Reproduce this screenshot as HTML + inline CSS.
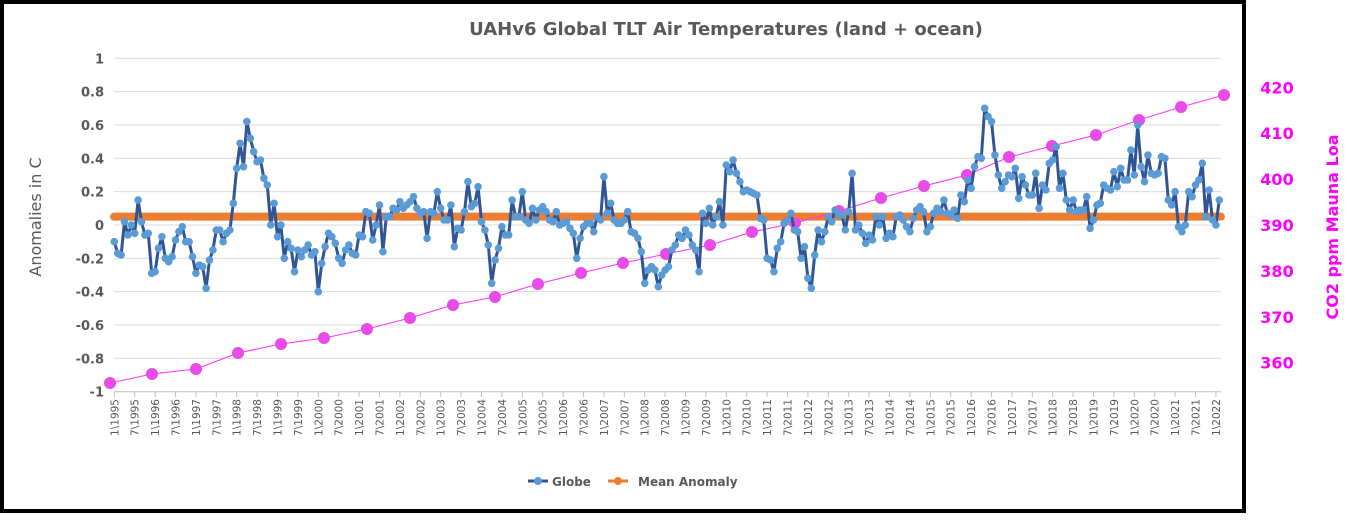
<!DOCTYPE html>
<html><head><meta charset="utf-8"><style>
html,body{margin:0;padding:0;background:#fff;}
body{width:1356px;height:524px;overflow:hidden;font-family:"DejaVu Sans",sans-serif;}
</style></head><body>
<svg id="s" width="1356" height="524" xmlns="http://www.w3.org/2000/svg" font-family="DejaVu Sans, sans-serif">
<rect x="2" y="2" width="1242" height="509" fill="#fff" stroke="#000" stroke-width="4"/>
<text x="726" y="35" text-anchor="middle" font-size="18" font-weight="bold" fill="#595959">UAHv6 Global TLT Air Temperatures (land + ocean)</text>
<text transform="translate(41,217) rotate(-90)" text-anchor="middle" font-size="16" fill="#595959">Anomalies in C</text>
<text transform="translate(1338,227) rotate(-90)" text-anchor="middle" font-size="16" font-weight="bold" fill="#ff00ff">CO2 ppm Mauna Loa</text>
<g id="g"></g>
<g font-size="12" font-weight="bold" fill="#595959">
<line x1="528" y1="481" x2="548" y2="481" stroke="#2f5597" stroke-width="3"/><circle cx="538" cy="481" r="4" fill="#5b9bd5"/>
<text x="552" y="486">Globe</text>
<line x1="608" y1="481" x2="628" y2="481" stroke="#ed7d31" stroke-width="3"/><circle cx="618" cy="481" r="4" fill="#ed7d31"/>
<text x="638" y="486">Mean Anomaly</text>
</g>
</svg>
<script>
var g=document.getElementById('g'),h='';
var y0=225,sc=166.7;function Y(v){return y0-v*sc;}
for(var k=0;k<=10;k++){var v=1-k*0.2,y=58.3+k*33.33;
 if(k<10)h+='<line x1="114" x2="1221" y1="'+y+'" y2="'+y+'" stroke="#d9d9d9" stroke-width="1"/>';
 h+='<text x="104" y="'+(y+5)+'" text-anchor="end" font-size="13" font-weight="bold" fill="#595959">'+(Math.abs(v)<1e-9?'0':(+v.toFixed(1)).toString())+'</text>';}
h+='<line x1="114" x2="1221" y1="391.7" y2="391.7" stroke="#bfbfbf"/>';
for(var j=0;j<55;j++){var x=114.3+j*20.4;var yr=1995+Math.floor(j/2);var lab=(j%2?'7':'1')+'\\'+yr;
 h+='<line x1="'+x+'" x2="'+x+'" y1="391.7" y2="397" stroke="#bfbfbf"/>';
 h+='<text transform="translate('+(x+4)+',399) rotate(-90)" text-anchor="end" font-size="10.5" fill="#595959">'+lab+'</text>';}
var lv=[420,410,400,390,380,370,360];
for(var k=0;k<7;k++){var y=87.3+k*45.9;h+='<text x="1277" y="'+(y+6)+'" text-anchor="middle" font-size="16" font-weight="bold" fill="#ff00ff">'+lv[k]+'</text>';}
var d=[-0.10,-0.17,-0.18,0.02,-0.06,0.00,-0.05,0.15,0.02,-0.06,-0.05,-0.29,
-0.28,-0.14,-0.07,-0.20,-0.22,-0.19,-0.09,-0.04,-0.01,-0.10,-0.10,-0.19,
-0.29,-0.24,-0.25,-0.38,-0.21,-0.15,-0.03,-0.03,-0.10,-0.05,-0.03,0.13,
0.34,0.49,0.35,0.62,0.52,0.44,0.38,0.39,0.28,0.24,0.00,0.13,
-0.07,0.00,-0.20,-0.10,-0.14,-0.28,-0.15,-0.19,-0.15,-0.12,-0.18,-0.16,
-0.40,-0.23,-0.13,-0.05,-0.07,-0.11,-0.20,-0.23,-0.15,-0.12,-0.17,-0.18,
-0.06,-0.07,0.08,0.07,-0.09,0.00,0.12,-0.16,0.05,0.05,0.10,0.09,
0.14,0.10,0.12,0.14,0.17,0.10,0.07,0.08,-0.08,0.08,0.07,0.20,
0.10,0.03,0.03,0.12,-0.13,-0.02,-0.03,0.08,0.26,0.11,0.13,0.23,
0.02,-0.03,-0.12,-0.35,-0.21,-0.14,-0.01,-0.06,-0.06,0.15,0.05,0.05,
0.20,0.03,0.01,0.10,0.03,0.09,0.11,0.08,0.03,0.02,0.08,0.00,
0.01,0.02,-0.02,-0.05,-0.20,-0.08,-0.01,0.01,0.01,-0.04,0.05,0.03,
0.29,0.07,0.13,0.03,0.01,0.01,0.03,0.08,-0.04,-0.05,-0.08,-0.16,
-0.35,-0.27,-0.25,-0.27,-0.37,-0.30,-0.27,-0.25,-0.15,-0.12,-0.06,-0.08,
-0.03,-0.06,-0.12,-0.15,-0.28,0.07,0.01,0.10,0.00,0.05,0.14,0.00,
0.36,0.32,0.39,0.31,0.26,0.20,0.21,0.20,0.19,0.18,0.04,0.03,
-0.20,-0.21,-0.28,-0.14,-0.10,0.01,0.03,0.07,-0.03,-0.04,-0.20,-0.13,
-0.32,-0.38,-0.18,-0.03,-0.10,-0.04,0.05,0.02,0.09,0.06,0.06,-0.03,
0.08,0.31,-0.03,0.00,-0.05,-0.11,-0.06,-0.09,0.05,0.00,0.05,-0.08,
-0.05,-0.07,0.05,0.06,0.03,-0.01,-0.04,0.04,0.09,0.11,0.08,-0.04,
-0.01,0.07,0.10,0.08,0.15,0.07,0.06,0.09,0.04,0.18,0.14,0.27,
0.22,0.35,0.41,0.40,0.70,0.65,0.62,0.42,0.30,0.22,0.26,0.30,
0.29,0.34,0.16,0.29,0.24,0.18,0.18,0.31,0.10,0.24,0.21,0.37,
0.39,0.47,0.22,0.31,0.15,0.09,0.15,0.08,0.09,0.09,0.17,-0.02,
0.03,0.12,0.13,0.24,0.22,0.21,0.32,0.23,0.34,0.27,0.27,0.45,
0.30,0.60,0.35,0.26,0.42,0.31,0.30,0.31,0.41,
0.40,0.15,0.12,0.20,-0.01,-0.04,0.00,0.20,0.17,0.24,0.27,0.37,0.05,0.21,0.03,0.00,0.15];
var ym=Y(0.05);
h+='<line x1="114" x2="1221" y1="'+ym+'" y2="'+ym+'" stroke="#ed7d31" stroke-width="8" stroke-linecap="round"/>';
var c=[[110,383],[152,374],[196,369],[238,353],[281,344],[324,338],[367,329],[410,318],[453,305],[495,297],[538,284],[581,273],[623,263],[666,254],[710,245],[752,232],[795,223],[839,211],[881,198],[924,186],[967,175],[1009,157],[1052,146],[1096,135],[1139,120],[1181,107],[1224,95]];
var p='';for(var i=0;i<c.length;i++)p+=c[i][0]+','+c[i][1]+' ';
h+='<polyline points="'+p+'" fill="none" stroke="#ff33ff" stroke-width="1"/>';
for(var i=0;i<c.length;i++)h+='<circle cx="'+c[i][0]+'" cy="'+c[i][1]+'" r="6" fill="#e84be8"/>';
var q='',m='';for(var i=0;i<d.length;i++){var x=114.3+i*3.4,y=Y(d[i]);q+=x.toFixed(1)+','+y.toFixed(1)+' ';m+='<circle cx="'+x.toFixed(1)+'" cy="'+y.toFixed(1)+'" r="3.8" fill="#5b9bd5"/>';}
h+='<polyline points="'+q+'" fill="none" stroke="#2f5597" stroke-width="3" stroke-linejoin="round"/>'+m;
g.innerHTML=h;
</script>
</body></html>
